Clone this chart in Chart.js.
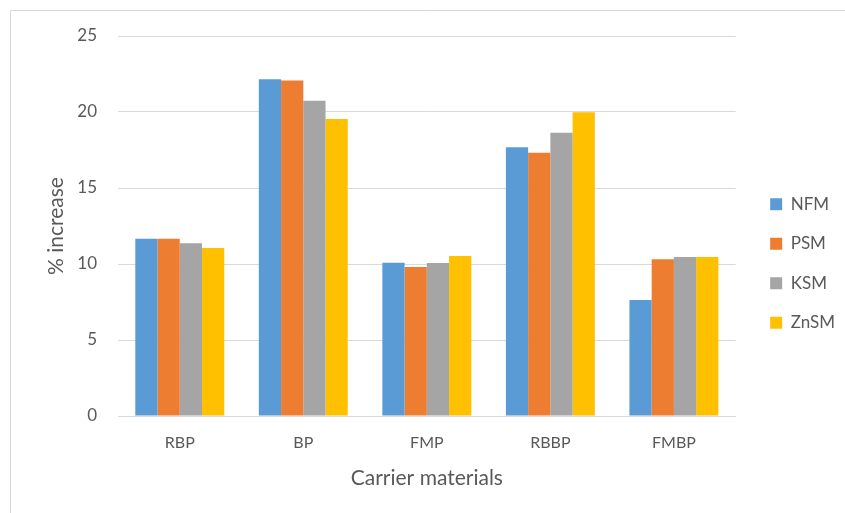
<!DOCTYPE html>
<html>
<head>
<meta charset="utf-8">
<script src="https://cdn.jsdelivr.net/npm/chart.js@4/dist/chart.umd.min.js"></script>
<style>
  html, body { margin: 0; padding: 0; background: #fff; }
  #wrap { position: relative; width: 845px; height: 513px; }
</style>
</head>
<body>
<div id="wrap"><canvas id="c" width="845" height="513"></canvas></div>
<script>
// Carrier materials on the x axis
const categories = ['RBP', 'BP', 'FMP', 'RBBP', 'FMBP'];
// % increase for each treatment
const nfm  = [11.66, 22.15, 10.09, 17.68, 7.63];
const psm  = [11.66, 22.08, 9.80, 17.32, 10.31];
const ksm  = [11.36, 20.74, 10.07, 18.64, 10.46];
const znsm = [11.05, 19.54, 10.53, 19.98, 10.46];
const yTicks = [0, 5, 10, 15, 20, 25];

const textColor = '#595959';
const fontFamily = 'Lato, "Open Sans", "Liberation Sans", sans-serif';

// thin frame along the top and left of the chart
const framePlugin = {
  id: 'frame',
  beforeDraw(chart) {
    const ctx = chart.ctx;
    ctx.save();
    ctx.fillStyle = '#ffffff';
    ctx.fillRect(0, 0, chart.width, chart.height);
    ctx.strokeStyle = '#d9d9d9';
    ctx.lineWidth = 1;
    ctx.beginPath();
    ctx.moveTo(10.5, chart.height);
    ctx.lineTo(10.5, 10.5);
    ctx.lineTo(chart.width, 10.5);
    ctx.stroke();
    ctx.restore();
  }
};

const series = [
  { label: 'NFM',  data: nfm,  color: '#5b9bd5' },
  { label: 'PSM',  data: psm,  color: '#ed7d31' },
  { label: 'KSM',  data: ksm,  color: '#a5a5a5' },
  { label: 'ZnSM', data: znsm, color: '#ffc000' }
];

new Chart(document.getElementById('c'), {
  type: 'bar',
  data: {
    labels: categories,
    datasets: series.map(s => ({
      label: s.label,
      data: s.data,
      backgroundColor: s.color,
      borderWidth: 0,
      categoryPercentage: 0.72,
      barPercentage: 1.0
    }))
  },
  options: {
    responsive: false,
    animation: false,
    layout: { padding: { top: 36, left: 40, right: 0, bottom: 22 } },
    plugins: {
      tooltip: { enabled: false },
      legend: {
        position: 'right',
        align: 'center',
        labels: {
          boxWidth: 12,
          boxHeight: 12,
          padding: 22.5,
          color: textColor,
          font: { family: fontFamily, size: 17 }
        }
      }
    },
    scales: {
      x: {
        grid: { display: false, drawTicks: false },
        border: { color: '#d9d9d9', width: 1 },
        ticks: { color: textColor, font: { family: fontFamily, size: 16 }, padding: 17 },
        title: {
          display: true,
          text: 'Carrier materials',
          color: textColor,
          font: { family: fontFamily, size: 21 },
          padding: { top: 0, bottom: 0 }
        },
        afterFit(scale) { scale.height = 75; }
      },
      y: {
        min: 0,
        max: 25,
        afterBuildTicks(scale) { scale.ticks = yTicks.map(v => ({ value: v })); },
        grid: { color: '#d9d9d9', drawTicks: false },
        border: { display: false },
        ticks: { color: textColor, font: { family: fontFamily, size: 17 }, padding: 21 },
        title: {
          display: true,
          text: '% increase',
          color: textColor,
          font: { family: fontFamily, size: 21 },
          padding: { top: 4, bottom: 0 }
        },
        afterFit(scale) { scale.width = 78; }
      },
      // empty spacer between the plot and the legend
      gap: {
        type: 'linear',
        position: 'right',
        display: true,
        grid: { display: false, drawTicks: false },
        border: { display: false },
        ticks: { display: false },
        afterFit(scale) { scale.width = 12; }
      }
    }
  },
  plugins: [framePlugin]
});
</script>
</body>
</html>
